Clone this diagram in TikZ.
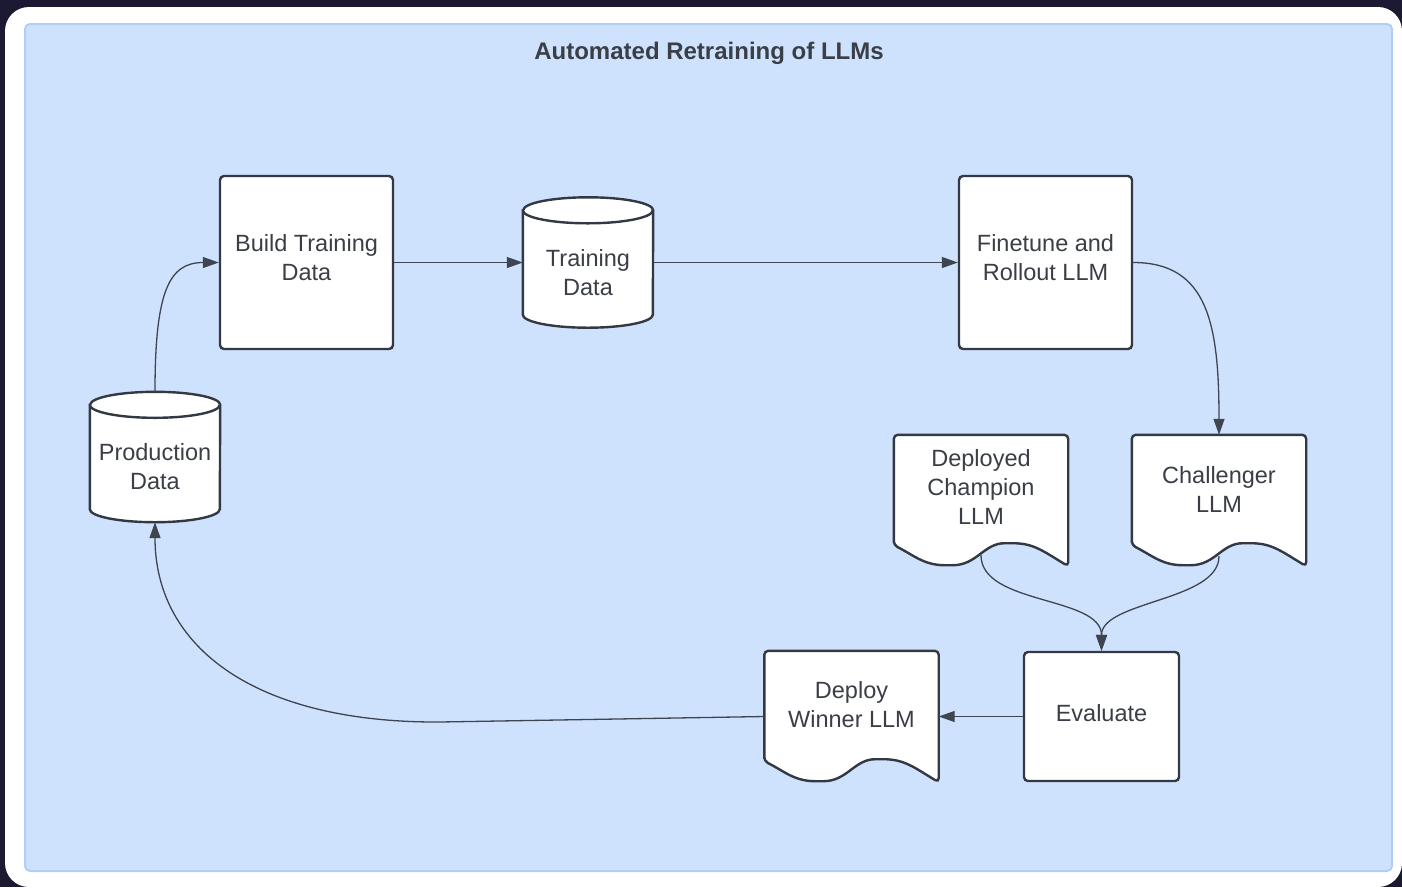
\documentclass[tikz,border=0pt]{standalone}
\usepackage{fontspec}
\setmainfont{Liberation Sans}
\usetikzlibrary{arrows.meta,calc}

\definecolor{night}{HTML}{1C1A33}
\definecolor{panelfill}{HTML}{CFE2FD}
\definecolor{panelrule}{HTML}{B2CEF6}
\definecolor{ink}{HTML}{333942}
\definecolor{wirecol}{HTML}{3E4550}
\definecolor{labelcol}{HTML}{3A3E46}

\newcommand\bodysize{\fontsize{23.5}{29}\selectfont}
\newcommand\titlesize{\fontsize{24}{29}\selectfont\bfseries}

% cylinder outline around a frame node (top/bottom ellipses, ry = 13)
\newcommand\drawcyl[1]{%
  \filldraw[outline, sharp corners] ($(#1.north west)+(0,13)$) -- ($(#1.south west)+(0,-13)$)
    arc[start angle=180,end angle=0,x radius=65,y radius=13]
    -- ($(#1.north east)+(0,13)$)
    arc[start angle=0,end angle=-180,x radius=65,y radius=13] -- cycle;
  \draw[outline, sharp corners] ($(#1.north west)+(0,13)$)
    arc[start angle=180,end angle=0,x radius=65,y radius=13];
}

% document outline (flat top, wavy bottom) around a frame node
\newcommand\drawdoc[1]{%
  \filldraw[outline] (#1.south west) -- (#1.north west) -- (#1.north east)
    -- ($(#1.south east)+(0,21)$)
    .. controls +(-25,-15) and +(25,0) .. ($(#1.south west)+(115,-2)$)
    .. controls +(-25,0) and +(28,0) .. ($(#1.south west)+(55,20)$)
    .. controls +(-25,0) and +(20,10) .. (#1.south west) -- cycle;
}

\tikzset{
  outline/.style={draw=ink, fill=white, line width=2.4pt, rounded corners=4pt},
  boxframe/.style={outline, minimum width=#1, minimum height=#1, inner sep=0pt},
  cylframe/.style={minimum width=130, minimum height=130, inner sep=0pt},
  docframe/.style={minimum width=174, minimum height=110, inner sep=0pt},
  txt/.style={align=center, font=\bodysize, text=labelcol, inner sep=0pt},
  wire/.style={draw=wirecol, line width=1.3pt, -{Triangle[length=16pt,width=11pt]}},
}

\begin{document}
\begin{tikzpicture}[x=1pt,y=-1pt]
\useasboundingbox (0,0) rectangle (1402,887);

% backdrop, white card and light blue panel
\fill[night] (0,0) rectangle (1402,887);
\fill[white, rounded corners=24pt] (5,7) rectangle (1402,887);
\filldraw[fill=panelfill, draw=panelrule, line width=2pt, rounded corners=5pt]
  (25,24) rectangle (1392,871);

\node[font=\titlesize, text=labelcol, inner sep=0pt] (title) at (709,53)
  {Automated Retraining of LLMs};

% process boxes
\node[boxframe=173] (build) at (306.5,262.5) {};
\node[boxframe=173] (fine) at (1045.5,262.5) {};
\node[outline, minimum width=155, minimum height=129, inner sep=0pt] (eval) at (1101.5,716.5) {};

% data stores
\node[cylframe] (train) at (588,262.5) {};
\node[cylframe] (prod) at (155,457) {};
\drawcyl{train}
\drawcyl{prod}

% model documents
\node[docframe] (champ) at (981,490) {};
\node[docframe] (chall) at (1219,490) {};
\node[docframe] (winner) at (851.5,706) {};
\drawdoc{champ}
\drawdoc{chall}
\drawdoc{winner}

% labels
\node[txt] (build-t) at ($(build)+(0,-5)$) {Build Training\\Data};
\node[txt] (fine-t) at ($(fine)+(0,-5)$) {Finetune and\\Rollout LLM};
\node[txt] (eval-t) at ($(eval)+(0,-3)$) {Evaluate};
\node[txt] (train-t) at ($(train)+(0,10)$) {Training\\Data};
\node[txt] (prod-t) at ($(prod)+(0,10)$) {Production\\Data};
\node[txt] (champ-t) at ($(champ)+(0,-3)$) {Deployed\\Champion\\LLM};
\node[txt] (chall-t) at ($(chall)+(0,-1)$) {Challenger\\LLM};
\node[txt] (winner-t) at ($(winner)+(0,-1)$) {Deploy\\Winner LLM};

% connectors
\draw[wire] (prod.north) .. controls +(0,-100) and +(-50,0) .. (build.west);
\draw[wire] (build.east) -- (train.west);
\draw[wire] (train.east) -- (fine.west);
\draw[wire] (fine.east) .. controls +(75,0) and +(0,-110) .. (chall.north);
\coordinate (champ-out) at ($(champ.south)+(0,10)$);
\coordinate (chall-out) at ($(chall.south)+(0,11)$);
\draw[wire] (champ-out) .. controls +(0,50) and +(0,-55) .. (eval.north);
\draw[wire] (chall-out) .. controls +(0,45) and +(0,-50) .. (eval.north);
\coordinate (winner-in) at (eval.west -| winner.east);
\coordinate (winner-out) at (eval.west -| winner.west);
\draw[wire] (eval.west) -- (winner-in);
\coordinate (bend) at (440,722);
\draw[wire] (winner-out) -- (bend) .. controls +(-185,1) and +(0,125) .. (prod.south);
\end{tikzpicture}
\end{document}
